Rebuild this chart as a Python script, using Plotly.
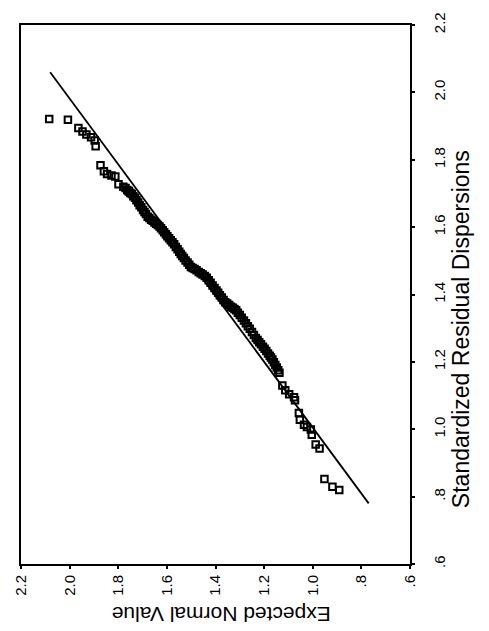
import plotly.graph_objects as go

# Expected normal value (bottom axis, reversed) and observed standardized
# residual dispersion (right axis) for each case
expected = [
    2.084, 2.007, 1.964, 1.947, 1.931, 1.912, 1.897, 1.893, 1.873, 1.859,
    1.846, 1.828, 1.812, 1.799, 1.779, 1.756,
    1.770, 1.763, 1.757, 1.750, 1.744, 1.738, 1.731,
    1.725, 1.718, 1.712, 1.705, 1.698, 1.692, 1.686, 1.679,
    1.672, 1.665, 1.658, 1.651, 1.644, 1.637, 1.630,
    1.624, 1.617, 1.611, 1.604, 1.598,
    1.591, 1.584, 1.577, 1.570,
    1.563, 1.556, 1.549, 1.543, 1.537,
    1.530, 1.523, 1.515, 1.508, 1.501,
    1.494, 1.486, 1.478, 1.469,
    1.461, 1.453, 1.444, 1.436,
    1.428, 1.420, 1.412, 1.404, 1.396,
    1.389, 1.382, 1.374, 1.367, 1.360,
    1.352, 1.344, 1.336, 1.329, 1.322, 1.315,
    1.308, 1.300, 1.292, 1.283, 1.275,
    1.267, 1.259, 1.250, 1.242, 1.234,
    1.227, 1.220, 1.213, 1.205, 1.198,
    1.191, 1.184, 1.177, 1.172, 1.166,
    1.160, 1.154, 1.148, 1.142, 1.137,
    1.125, 1.113, 1.097, 1.077, 1.073,
    1.057, 1.053, 1.036, 1.024, 1.008, 1.004, 0.988, 0.972,
    0.952, 0.919, 0.891,
]
observed = [
    1.921, 1.919, 1.894, 1.884, 1.875, 1.867, 1.857, 1.840, 1.784, 1.766,
    1.758, 1.753, 1.750, 1.727, 1.720, 1.706,
    1.716, 1.710, 1.707, 1.701, 1.698, 1.692, 1.687,
    1.680, 1.673, 1.665, 1.659, 1.651, 1.645, 1.639, 1.631,
    1.627, 1.622, 1.619, 1.614, 1.610, 1.606, 1.602,
    1.597, 1.591, 1.585, 1.579, 1.573,
    1.567, 1.561, 1.555, 1.549,
    1.541, 1.534, 1.527, 1.520, 1.514,
    1.508, 1.501, 1.495, 1.488, 1.482,
    1.479, 1.476, 1.472, 1.467,
    1.463, 1.459, 1.455, 1.450,
    1.442, 1.435, 1.427, 1.419, 1.412,
    1.405, 1.398, 1.391, 1.384, 1.377,
    1.373, 1.369, 1.364, 1.361, 1.357, 1.353,
    1.346, 1.339, 1.331, 1.323, 1.315,
    1.306, 1.298, 1.289, 1.280, 1.271,
    1.265, 1.258, 1.252, 1.245, 1.239,
    1.232, 1.225, 1.218, 1.213, 1.207,
    1.199, 1.191, 1.183, 1.175, 1.168,
    1.130, 1.116, 1.104, 1.095, 1.086,
    1.048, 1.028, 1.013, 1.007, 0.999, 0.984, 0.955, 0.943,
    0.852, 0.829, 0.820,
]

# Reference (normal) line end points
ref_expected = [2.08, 0.77]
ref_observed = [2.06, 0.78]

tick_vals = [2.2, 2.0, 1.8, 1.6, 1.4, 1.2, 1.0, 0.8, 0.6]
tick_text = ["2.2", "2.0", "1.8", "1.6", "1.4", "1.2", "1.0", ".8", ".6"]

FONT = "Liberation Sans, Arial, sans-serif"

fig = go.Figure()
fig.add_trace(go.Scatter(
    x=ref_expected, y=ref_observed, mode="lines",
    line=dict(color="black", width=1.8), hoverinfo="skip",
))
fig.add_trace(go.Scatter(
    x=expected, y=observed, mode="markers",
    marker=dict(symbol="square-open", size=6.5, color="black",
                line=dict(width=2)),
))

axis_common = dict(
    tickvals=tick_vals, ticktext=tick_text, tickangle=-90,
    showgrid=False, zeroline=False,
    showline=True, linecolor="black", linewidth=2, mirror=True,
    ticks="outside", ticklen=3, tickwidth=2, tickcolor="black",
    tickfont=dict(family=FONT, size=15, color="black"),
)

fig.update_layout(
    width=489, height=631,
    margin=dict(l=14, r=79, t=18, b=67),
    paper_bgcolor="white", plot_bgcolor="white",
    showlegend=False,
    xaxis=dict(range=[2.2, 0.6], ticklabelstandoff=0, **axis_common),
    yaxis=dict(range=[0.6, 2.2], side="right", ticklabelstandoff=12,
               **axis_common),
    annotations=[
        dict(text="Expected Normal Value", xref="paper", yref="paper",
             x=(218 - 14) / 396, y=-(615 - 564) / 546,
             xanchor="center", yanchor="middle", showarrow=False,
             textangle=180,
             font=dict(family=FONT, size=21, color="black")),
        dict(text="Standardized Residual Dispersions", xref="paper",
             yref="paper", x=(462 - 14) / 396, y=(564 - 326) / 546,
             xanchor="center", yanchor="middle", showarrow=False,
             textangle=-90,
             font=dict(family=FONT, size=23, color="black")),
    ],
)

fig.write_html("out.html")
